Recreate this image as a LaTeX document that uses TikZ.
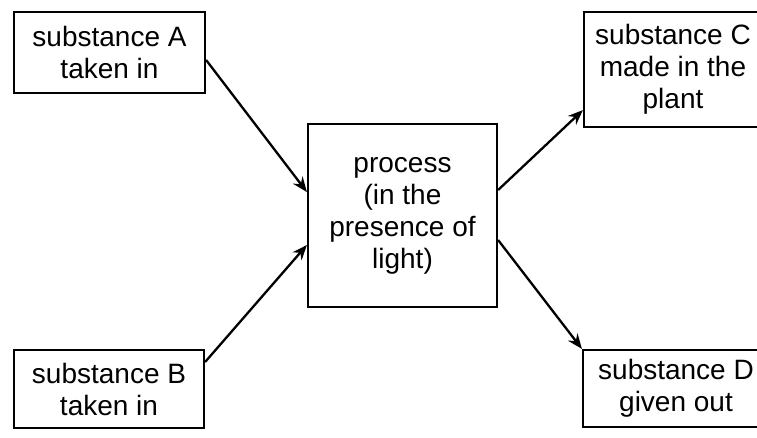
\documentclass[tikz,border=0pt]{standalone}
\usepackage{fontspec}
\setmainfont{Liberation Sans}
\usetikzlibrary{arrows.meta}
\begin{document}
\begin{tikzpicture}[x=1pt,y=-1pt,
  box/.style={draw=black,line width=2.2pt,rectangle,inner sep=0pt,align=center,
    font=\fontsize{28}{32}\selectfont},
  conn/.style={line width=2.3pt,-{Stealth[length=15pt,width=12pt,inset=5pt]}}]
\useasboundingbox (0,0) rectangle (757,437);
\fill[white] (0,0) rectangle (757,437);
\clip (0,0) rectangle (757,437);
\node[box,minimum width=191pt,minimum height=81pt] (A) at (109.5,52.5) {substance A\\taken in};
\node[box,minimum width=190pt,minimum height=78pt] (B) at (109,389) {substance B\\taken in};
\node[box,minimum width=189pt,minimum height=183pt] (P) at (402.5,215.5) {process\\(in the\\presence of\\light)};
\node[box,minimum width=178pt,minimum height=115pt] (C) at (673,69.5) {substance C\\made in the\\plant};
\node[box,minimum width=186pt,minimum height=77pt] (D) at (676,388.5) {substance D\\given out};
\draw[conn] ([yshift=-7.5pt]A.east) -- ([yshift=23.5pt]P.west);
\draw[conn] ([yshift=27pt]B.east) -- ([yshift=-29.5pt]P.west);
\draw[conn] ([yshift=25.5pt]P.east) -- ([yshift=18pt]C.south west);
\draw[conn] ([yshift=-24.5pt]P.east) -- (D.north west);
\end{tikzpicture}
\end{document}
